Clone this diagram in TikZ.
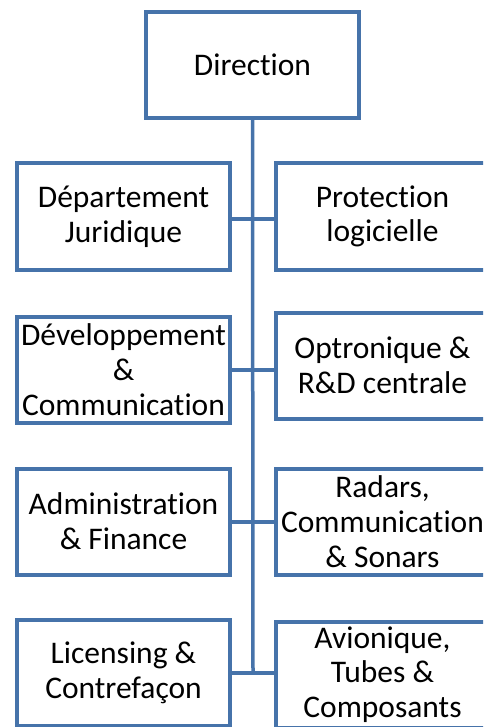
\documentclass[tikz,border=0pt]{standalone}
\usepackage{fontspec}
\setmainfont[Ligatures={NoCommon}]{Carlito}
\definecolor{boxblue}{RGB}{70,115,170}
\begin{document}
\begin{tikzpicture}[x=1pt,y=-1pt,
  unit/.style={draw=boxblue, line width=4pt, fill=white, minimum width=213pt, minimum height=106pt,
    inner sep=0pt, align=center, font=\fontsize{31.5}{34.7}\selectfont},
  link/.style={draw=boxblue, line width=3.5pt}]
\useasboundingbox (0,0) rectangle (483,727);
\begin{scope}
\clip (0,0) rectangle (483,727);
\node[unit] (top) at (252.5,65) {Direction};
\coordinate (j1) at (253,219);
\coordinate (j2) at (253,370);
\coordinate (j3) at (253,522);
\coordinate (j4) at (253,673);
\draw[link] (top.south) -- (j4);
\node[unit] (L1) at (123.5,216.5) {Département\\Juridique};
\node[unit] (R1) at (382.5,216.5) {Protection\\logicielle};
\node[unit] (L2) at (123.5,369.5) {Développement\\\&\\Communication};
\node[unit] (R2) at (382.5,365.5) {Optronique \&\\R\&D centrale};
\node[unit] (L3) at (123.5,521.5) {Administration\\\& Finance};
\node[unit] (R3) at (382.5,521.5) {Radars,\\Communication\\\& Sonars};
\node[unit] (L4) at (123.5,672.5) {Licensing \&\\Contrefaçon};
\node[unit] (R4) at (382.5,674.5) {Avionique,\\Tubes \&\\Composants};
\foreach \r/\j in {1/j1,2/j2,3/j3,4/j4}{
  \draw[link] (L\r.east |- \j) -- (\j) -- (R\r.west |- \j);
}
\end{scope}
\end{tikzpicture}
\end{document}
